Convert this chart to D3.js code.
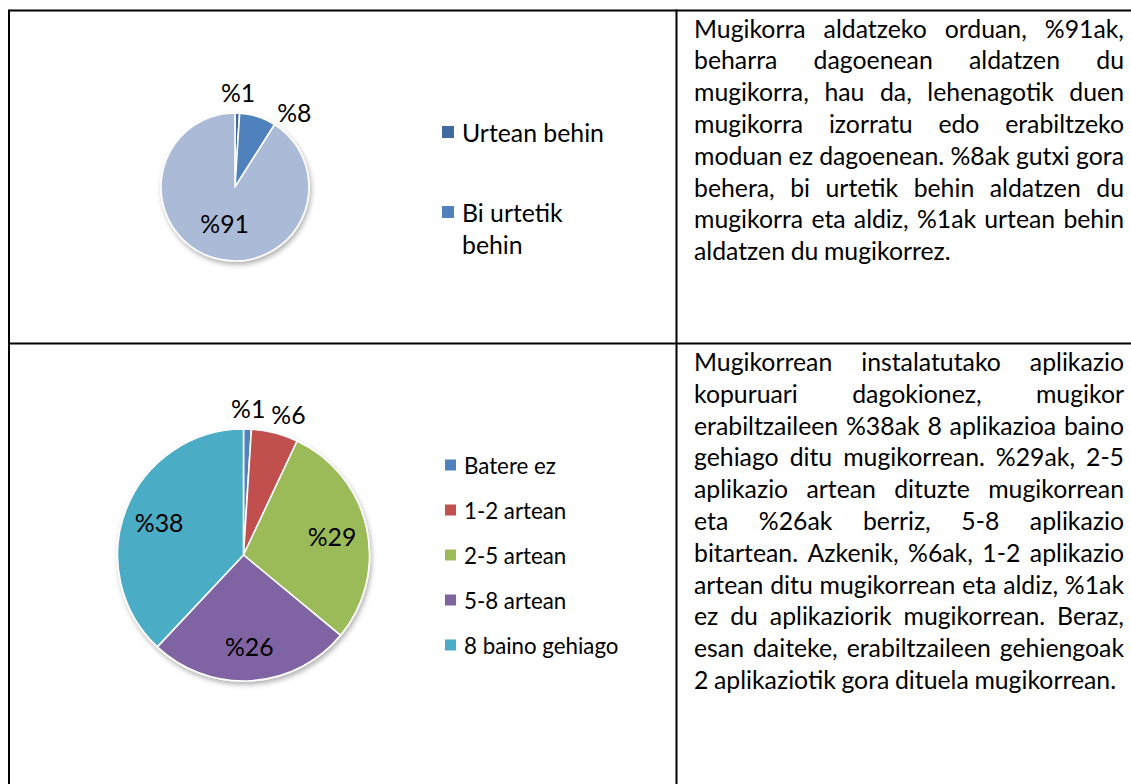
<!DOCTYPE html>
<html>
<head>
<meta charset="utf-8">
<script src="https://cdn.jsdelivr.net/npm/d3@7"></script>
<style>
  html, body { margin: 0; padding: 0; background: #fff; }
  svg text { font-family: Lato, Carlito, sans-serif; fill: #000; }
</style>
</head>
<body>
<div id="d3-container"></div>
<script>
/**
 * DATA
 * */
const freqCategories = ["Urtean behin", "Bi urtetik behin", "Beharra dagoenean"];
const freqValues = [1, 8, 91];
const freqColors = ["#3f6a9f", "#4f81bd", "#aabad7"];

const appCategories = ["Batere ez", "1-2 artean", "2-5 artean", "5-8 artean", "8 baino gehiago"];
const appValues = [1, 6, 29, 26, 38];
const appColors = ["#4f81bd", "#c0504d", "#9bbb59", "#8064a2", "#4bacc6"];

const freqText = [
  "Mugikorra aldatzeko orduan, %91ak,",
  "beharra dagoenean aldatzen du",
  "mugikorra, hau da, lehenagotik duen",
  "mugikorra izorratu edo erabiltzeko",
  "moduan ez dagoenean. %8ak gutxi gora",
  "behera, bi urtetik behin aldatzen du",
  "mugikorra eta aldiz, %1ak urtean behin",
  "aldatzen du mugikorrez."
];
const appText = [
  "Mugikorrean instalatutako aplikazio",
  "kopuruari dagokionez, mugikor",
  "erabiltzaileen %38ak 8 aplikazioa baino",
  "gehiago ditu mugikorrean. %29ak, 2-5",
  "aplikazio artean dituzte mugikorrean",
  "eta %26ak berriz, 5-8 aplikazio",
  "bitartean. Azkenik, %6ak, 1-2 aplikazio",
  "artean ditu mugikorrean eta aldiz, %1ak",
  "ez du aplikaziorik mugikorrean. Beraz,",
  "esan daiteke, erabiltzaileen gehiengoak",
  "2 aplikaziotik gora dituela mugikorrean."
];

/**
 * CONSTANTS
 * */
const width = 1131, height = 784;
const table = { left: 9, top: 10.5, split: 676.5, rowBreak: 343.5 };
const bodyFont = 24.8, labelFont = 24.8;
const lineGap = 31.8;

const svg = d3.select("#d3-container")
  .append("svg")
  .attr("width", width)
  .attr("height", height);

const defs = svg.append("defs");
defs.append("filter")
  .attr("id", "shadow")
  .attr("x", "-20%").attr("y", "-20%")
  .attr("width", "140%").attr("height", "140%")
  .append("feDropShadow")
  .attr("dx", 1.5)
  .attr("dy", 3)
  .attr("stdDeviation", 2.5)
  .attr("flood-color", "#000")
  .attr("flood-opacity", 0.3);

// table lines
const grid = svg.append("g").attr("stroke", "#000").attr("stroke-width", 2);
grid.append("line").attr("x1", table.left).attr("x2", width).attr("y1", table.top).attr("y2", table.top);
grid.append("line").attr("x1", table.left).attr("x2", width).attr("y1", table.rowBreak).attr("y2", table.rowBreak);
grid.append("line").attr("x1", table.left).attr("x2", table.left).attr("y1", table.top - 1).attr("y2", height);
grid.append("line").attr("x1", table.split).attr("x2", table.split).attr("y1", table.top - 1).attr("y2", height);

/**
 * PIE CHART
 * */
function drawPie(cfg) {
  const g = svg.append("g").attr("transform", `translate(${cfg.cx},${cfg.cy})`);
  const data = cfg.values.map((v, i) => ({ name: cfg.categories[i], value: v, color: cfg.colors[i] }));
  const total = d3.sum(data, d => d.value);

  const arcs = d3.pie().sort(null).value(d => d.value)(data);
  const arc = d3.arc().innerRadius(0).outerRadius(cfg.r);

  g.append("g")
    .attr("filter", "url(#shadow)")
    .selectAll("path")
    .data(arcs)
    .join("path")
    .attr("d", arc)
    .attr("fill", d => d.data.color)
    .attr("stroke", "#fff")
    .attr("stroke-width", 1.6)
    .attr("stroke-linejoin", "round");

  // labels: small slices outside, pushed clockwise if they hit the previous one
  const outR = cfg.r + 22;
  const inArc = d3.arc().innerRadius(0).outerRadius(cfg.r * cfg.inside * 2);
  let prev = null;
  arcs.forEach(d => {
    const txt = "%" + d.data.value;
    const t = g.append("text")
      .attr("font-size", labelFont)
      .attr("text-anchor", "middle")
      .attr("dominant-baseline", "central")
      .text(txt);
    const w = t.node().getComputedTextLength();
    let x, y;
    if (d.data.value / total < 0.1) {
      let a = (d.startAngle + d.endAngle) / 2;
      x = outR * Math.sin(a);
      if (prev) {
        const minX = prev.x + prev.w / 2 + cfg.pad + w / 2;
        if (x < minX) a = Math.asin(Math.min(1, minX / outR));
      }
      x = outR * Math.sin(a);
      y = -outR * Math.cos(a);
      prev = { x, w };
    } else {
      const c = inArc.centroid(d);
      x = c[0]; y = c[1];
    }
    t.attr("x", x).attr("y", y + 1);
  });

  // legend
  const leg = svg.append("g").attr("transform", `translate(${cfg.legX},${cfg.legY})`);
  data.slice(0, cfg.legendCount).forEach((d, i) => {
    const row = leg.append("g").attr("transform", `translate(0,${cfg.legStep[i]})`);
    row.append("rect")
      .attr("x", 0).attr("y", -cfg.sq / 2)
      .attr("width", cfg.sq).attr("height", cfg.sq)
      .attr("fill", d.color);
    const words = cfg.wrap && cfg.wrap[i] ? cfg.wrap[i] : [d.name];
    const t = row.append("text")
      .attr("font-size", cfg.legFont)
      .attr("x", cfg.sq + 8)
      .attr("y", 0)
      .attr("dominant-baseline", "central");
    words.forEach((w, j) => {
      t.append("tspan").attr("x", cfg.sq + 8).attr("dy", j ? lineGap : 0).text(w);
    });
  });
}

/**
 * JUSTIFIED PARAGRAPH
 * */
function drawParagraph(lines, x0, x1, y0) {
  const g = svg.append("g");
  lines.forEach((line, i) => {
    const y = y0 + i * lineGap;
    const words = line.split(" ");
    const last = i === lines.length - 1;
    const nodes = words.map(w => g.append("text")
      .attr("font-size", bodyFont)
      .attr("y", y)
      .text(w));
    const widths = nodes.map(n => n.node().getComputedTextLength());
    const space = bodyFont * 0.226;
    let gap = last ? space : (x1 - x0 - d3.sum(widths)) / (words.length - 1);
    gap = Math.max(gap, space * 0.7);
    let x = x0;
    nodes.forEach((n, k) => {
      n.attr("x", x);
      x += widths[k] + gap;
    });
  });
}

drawPie({
  categories: freqCategories, values: freqValues, colors: freqColors,
  cx: 235, cy: 187, r: 74, inside: 0.5, pad: 22,
  legX: 442, legY: 132, legStep: [0, 80], sq: 12, legFont: 24.8,
  legendCount: 2, wrap: { 1: ["Bi urtetik", "behin"] }
});

drawPie({
  categories: appCategories, values: appValues, colors: appColors,
  cx: 243.5, cy: 555, r: 126, inside: 0.72, pad: 6,
  legX: 445, legY: 465, legStep: [0, 45, 90, 135, 180], sq: 11, legFont: 22.3,
  legendCount: 5
});

drawParagraph(freqText, 694, 1124, 37.5);
drawParagraph(appText, 694, 1124, 371);
</script>
</body>
</html>
